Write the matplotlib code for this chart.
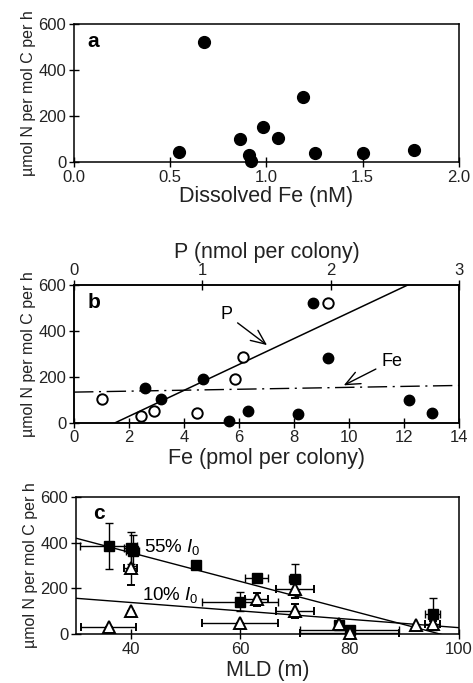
import numpy as np
import matplotlib
matplotlib.use('Agg')
import matplotlib.pyplot as plt

plt.rcParams['font.family'] = ['Liberation Sans', 'DejaVu Sans']
plt.rcParams['mathtext.fontset'] = 'custom'
plt.rcParams['mathtext.it'] = 'Liberation Sans:italic'
plt.rcParams['mathtext.rm'] = 'Liberation Sans'

# panel a: N2 fixation vs dissolved Fe
dissolved_fe = [0.545, 0.673, 0.86, 0.91, 0.922, 0.98, 1.062, 1.19, 1.251, 1.502, 1.768]
rate_a = [43, 520, 100, 29, 6, 152, 104, 284, 41, 38, 51]

# panel b: per-colony Fe (filled) and P (open)
colony_fe = [2.59, 3.17, 4.69, 5.62, 6.31, 8.13, 8.68, 9.23, 12.2, 13.02]
rate_fe = [152, 101, 190, 6, 49, 39, 519, 283, 97, 42]
colony_p = [0.215, 0.519, 0.625, 0.958, 1.256, 1.318, 1.983]
rate_p = [101, 29, 49, 41, 191, 284, 519]
p_fit = (262.7, -84.6)     # slope, intercept
fe_fit = (2.07, 133.0)

# panel c: rate vs mixed layer depth
mld_55 = [36, 40, 40.4, 52, 63, 60, 70, 78, 80, 95.2]
rate_55 = [386, 375, 365, 302, 244, 142, 240, 40, 19, 87]
yerr_55 = [100, 70, 68, 0, 0, 41, 65, 0, 0, 70]
xerr_55 = [5.2, 1.2, 1.2, 0, 2.1, 7, 1, 0, 9, 1.4]
mld_10 = [36, 40, 40, 60, 63, 70, 70, 78, 80, 92.1, 95.2]
rate_10 = [33, 101, 290, 51, 152, 196, 101, 43, 4, 41, 44]
yerr_10 = [0, 0, 75, 0, 30, 36, 29, 0, 0, 0, 15]
xerr_10 = [5, 0, 1.2, 7, 2.1, 3.5, 3.5, 0, 9, 0, 1.4]
fit_55 = (-6.28, 607.4)
fit_10 = (-1.83, 211.9)

ylab = 'µmol N per mol C per h'
fig = plt.figure(figsize=(4.73, 6.83), dpi=100)


def style(ax):
    for s in ax.spines.values():
        s.set_linewidth(1.1)
    ax.tick_params(direction='inout', length=7, width=1.0, labelsize=12, pad=2,
                   labelcolor='#222222')
    ax.set_ylim(0, 600)
    ax.set_yticks([0, 200, 400, 600])
    ax.set_ylabel(ylab, fontsize=11.5, labelpad=2, color='#222222')


# ---- a
ax1 = fig.add_axes([0.1564, 0.7628, 0.814, 0.2021])
ax1.plot(dissolved_fe, rate_a, 'o', color='black', ms=8.5, clip_on=False, zorder=3)
ax1.set_xlim(0, 2)
ax1.set_xticks([0, 0.5, 1.0, 1.5, 2.0])
ax1.set_xticklabels(['0.0', '0.5', '1.0', '1.5', '2.0'])
style(ax1)
ax1.set_xlabel('Dissolved Fe (nM)', fontsize=15.5, labelpad=1, color='#222222')
ax1.text(0.035, 0.87, 'a', transform=ax1.transAxes, fontsize=15,
         fontweight='heavy', ha='left', va='center')

# ---- b
ax2 = fig.add_axes([0.1564, 0.3811, 0.814, 0.2021])
ax2.plot(colony_fe, rate_fe, 'o', color='black', ms=7.5, clip_on=False, zorder=3)
ax2.set_xlim(0, 14)
ax2.set_xticks(range(0, 15, 2))
style(ax2)
ax2.set_xlabel('Fe (pmol per colony)', fontsize=15.5, labelpad=2, color='#222222')
xf = np.array([0, 14])
ax2.plot(xf, fe_fit[0] * xf + fe_fit[1], color='black', lw=1.0,
         dashes=(14, 4, 1.5, 4))
ax2.text(0.035, 0.87, 'b', transform=ax2.transAxes, fontsize=15,
         fontweight='heavy', ha='left', va='center')

ax2t = ax2.twiny()
ax2t.set_xlim(0, 3)
ax2t.set_xticks([0, 1, 2, 3])
ax2t.plot(colony_p, rate_p, 'o', mfc='white', mec='black', mew=1.4, ms=7.5,
          clip_on=False, zorder=3)
xp = np.array([-p_fit[1] / p_fit[0], (600 - p_fit[1]) / p_fit[0]])
ax2t.plot(xp, p_fit[0] * xp + p_fit[1], color='black', lw=1.1)
for s in ax2t.spines.values():
    s.set_linewidth(1.1)
ax2t.tick_params(direction='inout', length=7, width=1.0, labelsize=12, pad=1,
                 labelcolor='#222222')
ax2t.set_xlabel('P (nmol per colony)', fontsize=15.5, labelpad=4, color='#222222')
ax2t.set_ylim(0, 600)

arrow = dict(arrowstyle='->,head_length=0.8,head_width=0.35', color='black', lw=1.0)
ax2.annotate('P', xy=(7.1, 330), xytext=(5.55, 470), fontsize=13,
             arrowprops=arrow, ha='center', va='center')
ax2.annotate('Fe', xy=(9.72, 157), xytext=(11.55, 268), fontsize=13,
             arrowprops=arrow, ha='center', va='center')

# ---- c
ax3 = fig.add_axes([0.1607, 0.0713, 0.8097, 0.2015])
ax3.errorbar(mld_55, rate_55, yerr=yerr_55, xerr=xerr_55, fmt='s', color='black',
             ms=7, capsize=3, elinewidth=1.0, capthick=1.0, clip_on=False, zorder=3)
ax3.errorbar(mld_10, rate_10, yerr=yerr_10, xerr=xerr_10, fmt='^', mfc='white',
             mec='black', mew=1.4, ecolor='black', ms=8, capsize=3,
             elinewidth=1.0, capthick=1.0, clip_on=False, zorder=4)
xm = np.array([30, 100])
ax3.plot(xm, fit_55[0] * xm + fit_55[1], color='black', lw=1.0)
ax3.plot(xm, fit_10[0] * xm + fit_10[1], color='black', lw=1.0)
ax3.set_xlim(30, 100)
ax3.set_xticks([40, 60, 80, 100])
style(ax3)
ax3.set_xlabel('MLD (m)', fontsize=15.5, labelpad=2, color='#222222')
ax3.text(42.5, 382, r'55% $I_0$', fontsize=13.5, ha='left', va='center')
ax3.text(42.0, 171, r'10% $I_0$', fontsize=13.5, ha='left', va='center')
ax3.text(0.045, 0.88, 'c', transform=ax3.transAxes, fontsize=15,
         fontweight='heavy', ha='left', va='center')

fig.savefig('out.png', dpi=100)
